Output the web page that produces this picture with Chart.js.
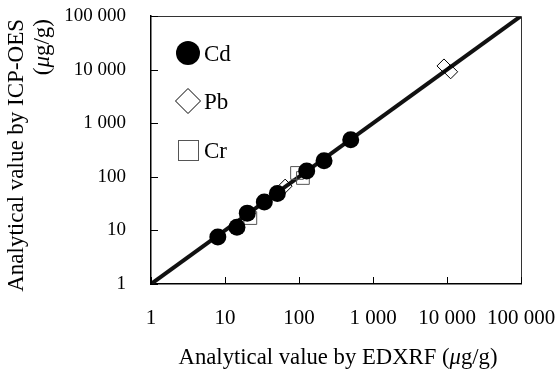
<!DOCTYPE html>
<html><head><meta charset="utf-8">
<script src="https://cdn.jsdelivr.net/npm/chart.js@4/dist/chart.umd.min.js"></script>
<style>html,body{margin:0;padding:0;background:#fff}#wrap{width:559px;height:379px}</style>
</head><body><div id="wrap"><canvas id="c" width="559" height="379"></canvas></div>
<script>
// ---- data ----
const tickValues = [1, 10, 100, 1000, 10000, 100000];
const tickLabels = ['1', '10', '100', '1 000', '10 000', '100 000'];
const seriesNames = ['Cd', 'Pb', 'Cr'];
const cdX = [8, 14.5, 20, 34, 51, 127, 218, 500];
const cdY = [7.5, 11.5, 21, 34, 49, 128, 200, 490];
const pbX = [65, 9100, 11200];
const pbY = [67, 11700, 9100];
const crX = [22, 94, 113];
const crY = [17, 118, 95];
const lineX = [1, 100000];
const lineY = [1, 100000];
const xTitle = [['Analytical value by EDXRF (', false], ['\u03bc', true], ['g/g)', false]];
const yTitle1 = [['Analytical value by ICP-OES', false]];
const yTitle2 = [['(', false], ['\u03bc', true], ['g/g)', false]];

const FONT = "'Liberation Serif', 'Times New Roman', serif";
const pts = (xs, ys) => xs.map((x, i) => ({x: x, y: ys[i]}));

function richWidth(ctx, segs, size) {
  let w = 0;
  segs.forEach(([t, it]) => { ctx.font = (it ? 'italic ' : '') + size + 'px ' + FONT; w += ctx.measureText(t).width; });
  return w;
}
function drawRich(ctx, segs, size, x, y) {
  let cx = x;
  ctx.textAlign = 'left';
  segs.forEach(([t, it]) => {
    ctx.font = (it ? 'italic ' : '') + size + 'px ' + FONT;
    ctx.fillText(t, cx, y);
    cx += ctx.measureText(t).width;
  });
}

const decor = {
  id: 'decor',
  afterDraw(chart) {
    const ctx = chart.ctx, a = chart.chartArea;
    const xs = chart.scales.x, ys = chart.scales.y;
    ctx.save();
    // top/right frame
    ctx.strokeStyle = '#333'; ctx.lineWidth = 1;
    ctx.beginPath();
    ctx.moveTo(a.left, a.top + 0.5); ctx.lineTo(a.right + 0.5, a.top + 0.5); ctx.lineTo(a.right + 0.5, a.bottom);
    ctx.stroke();
    // inner ticks
    ctx.strokeStyle = '#000'; ctx.lineWidth = 1;
    ctx.beginPath();
    xs.ticks.forEach(t => { const p = Math.round(xs.getPixelForValue(t.value)) + 0.5; ctx.moveTo(p, a.bottom); ctx.lineTo(p, a.bottom - 7); });
    ys.ticks.forEach(t => { const p = Math.round(ys.getPixelForValue(t.value)) + 0.5; ctx.moveTo(a.left, p); ctx.lineTo(a.left + 7, p); });
    ctx.stroke();
    // legend
    const lx = 188, ly = [53, 101, 150];
    ctx.fillStyle = '#000';
    ctx.beginPath(); ctx.arc(lx, ly[0], 12, 0, Math.PI * 2); ctx.fill();
    ctx.beginPath();
    ctx.moveTo(lx, ly[1] - 12.5); ctx.lineTo(lx + 12.5, ly[1]); ctx.lineTo(lx, ly[1] + 12.5); ctx.lineTo(lx - 12.5, ly[1]); ctx.closePath();
    ctx.fillStyle = '#fff'; ctx.fill(); ctx.strokeStyle = '#000'; ctx.lineWidth = 1; ctx.stroke();
    ctx.strokeStyle = '#555';
    ctx.strokeRect(lx - 10 + 0.5, ly[2] - 10 + 0.5, 20, 20);
    ctx.fillStyle = '#000';
    ctx.font = '23px ' + FONT; ctx.textAlign = 'left'; ctx.textBaseline = 'alphabetic';
    seriesNames.forEach((n, i) => ctx.fillText(n, 204, ly[i] + 8));
    // x title
    const xw = richWidth(ctx, xTitle, 22.7);
    drawRich(ctx, xTitle, 22.7, (a.left + a.right) / 2 + 2 - xw / 2, 364);
    // y title (rotated, end-aligned at top)
    [[yTitle1, 23], [yTitle2, 49]].forEach(([segs, bx]) => {
      const w = richWidth(ctx, segs, 23);
      ctx.save();
      ctx.translate(bx, 19);
      ctx.rotate(-Math.PI / 2);
      drawRich(ctx, segs, 23, -w, 0);
      ctx.restore();
    });
    ctx.restore();
  }
};

const setTicks = s => { s.ticks = tickValues.map(v => ({value: v})); };
const labelFor = v => { const i = tickValues.indexOf(v); return i >= 0 ? tickLabels[i] : ''; };

new Chart(document.getElementById('c'), {
  type: 'scatter',
  data: {
    datasets: [
      {label: 'y=x', data: pts(lineX, lineY), showLine: true, borderColor: '#111', borderWidth: 4, pointRadius: 0, order: 3},
      {label: seriesNames[2], data: pts(crX, crY), pointStyle: 'rect', pointRadius: 9, backgroundColor: 'rgba(255,255,255,0)', borderColor: '#555', borderWidth: 1, order: 2},
      {label: seriesNames[1], data: pts(pbX, pbY), pointStyle: 'rectRot', pointRadius: 7, backgroundColor: 'rgba(255,255,255,0)', borderColor: '#000', borderWidth: 1, order: 1},
      {label: seriesNames[0], data: pts(cdX, cdY), pointStyle: 'circle', pointRadius: 8.5, backgroundColor: '#000', borderColor: '#000', borderWidth: 0, order: 0}
    ]
  },
  options: {
    responsive: false, animation: false, devicePixelRatio: 1,
    layout: {padding: {top: 16, right: 38, left: 0, bottom: 0}, autoPadding: false},
    plugins: {legend: {display: false}, tooltip: {enabled: false}},
    scales: {
      x: {
        type: 'logarithmic', position: 'bottom', min: 1, max: 100000,
        afterBuildTicks: setTicks,
        afterFit: s => { s.height = 379 - 284; },
        grid: {drawOnChartArea: false, drawTicks: true, tickLength: 22, tickColor: 'rgba(0,0,0,0)'},
        border: {display: true, color: '#000', width: 1.5},
        ticks: {callback: v => labelFor(v), autoSkip: false, maxRotation: 0, padding: 0, color: '#000', font: {family: FONT, size: 21}}
      },
      y: {
        type: 'logarithmic', position: 'left', min: 1, max: 100000,
        afterBuildTicks: setTicks,
        afterFit: s => { s.width = 151; },
        grid: {drawOnChartArea: false, drawTicks: true, tickLength: 25, tickColor: 'rgba(0,0,0,0)'},
        border: {display: true, color: '#000', width: 1.5},
        ticks: {callback: v => labelFor(v), autoSkip: false, padding: 0, color: '#000', font: {family: FONT, size: 19}}
      }
    }
  },
  plugins: [decor]
});
</script></body></html>
